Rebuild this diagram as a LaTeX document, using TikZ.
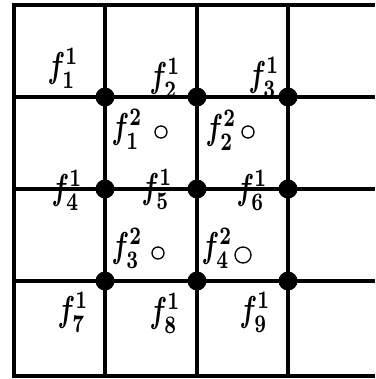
\documentclass[tikz,border=0pt]{standalone}
\begin{document}
\begin{tikzpicture}[x=1pt,y=-1pt,
  gridline/.style={line width=3.6pt,black},
  junction/.style={circle,fill=black,inner sep=0pt,minimum size=19pt},
  hollow/.style={circle,draw=black,line width=1.3pt,inner sep=0pt,minimum size=#1},
  hollow/.default=12pt,
  flabel/.style={inner sep=0pt}]
\newcommand\flab[2]{\scalebox{2.6}[3.6]{\boldmath$f^{#1}_{#2}$}}
\useasboundingbox (0,0) rectangle (375,379);
% grid
\draw[gridline] (375,5) -- (14,5) -- (14,376) -- (375,376);
\foreach \y in {97,189,281} \draw[gridline] (14,\y) -- (375,\y);
\foreach \x in {105,197,288} \draw[gridline] (\x,5) -- (\x,376);
% junction dots
\node[junction] (j11) at (105,97) {};
\node[junction] (j12) at (197,97) {};
\node[junction] (j13) at (288,97) {};
\node[junction] (j21) at (105,189) {};
\node[junction] (j22) at (197,189) {};
\node[junction] (j23) at (288,189) {};
\node[junction] (j31) at (105,281) {};
\node[junction] (j32) at (197,281) {};
\node[junction] (j33) at (288,281) {};
% hollow circles
\node[hollow] (c1) at (161,132) {};
\node[hollow] (c2) at (248,132) {};
\node[hollow] (c3) at (158,253) {};
\node[hollow=16pt] (c4) at (243,255) {};
% level-1 labels
\node[flabel] (f11) at (63,68) {\flab{1}{1}};
\node[flabel] (f12) at (165,78) {\flab{1}{2}};
\node[flabel] (f13) at (264,77) {\flab{1}{3}};
\node[flabel] (f14) at (67,190) {\flab{1}{4}};
\node[flabel] (f15) at (157,189) {\flab{1}{5}};
\node[flabel] (f16) at (252,190) {\flab{1}{6}};
\node[flabel] (f17) at (73,312) {\flab{1}{7}};
\node[flabel] (f18) at (165,313) {\flab{1}{8}};
\node[flabel] (f19) at (255,312) {\flab{1}{9}};
% level-2 labels
\node[flabel] (f21) at (127,129) {\flab{2}{1}};
\node[flabel] (f22) at (221,130) {\flab{2}{2}};
\node[flabel] (f23) at (127,248) {\flab{2}{3}};
\node[flabel] (f24) at (217,248) {\flab{2}{4}};
\end{tikzpicture}
\end{document}
